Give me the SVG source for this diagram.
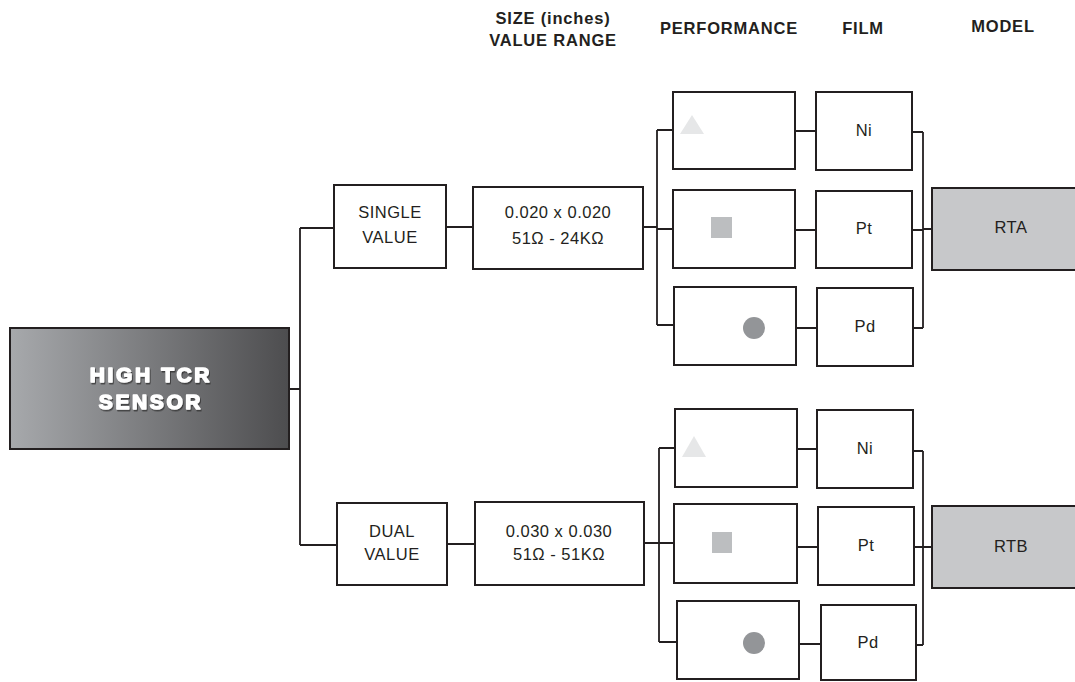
<svg xmlns="http://www.w3.org/2000/svg" width="1075" height="682" viewBox="0 0 1075 682">
<defs>
<linearGradient id="g" x1="0" y1="0" x2="1" y2="0">
<stop offset="0" stop-color="#a7a9ac"/>
<stop offset="1" stop-color="#4d4d4f"/>
</linearGradient>
<filter id="sh" x="-10%" y="-10%" width="120%" height="130%">
<feDropShadow dx="1" dy="1.5" stdDeviation="0.6" flood-color="#333" flood-opacity="0.8"/>
</filter>
</defs>
<style>
.b{fill:#fff;stroke:#231f20;stroke-width:2}
.m{fill:#c7c8ca;stroke:#231f20;stroke-width:2}
.t{font-family:"Liberation Sans",Arial,sans-serif;font-size:16.5px;letter-spacing:0.5px;fill:#231f20;text-anchor:middle}
.h{font-family:"Liberation Sans",Arial,sans-serif;font-size:16.5px;letter-spacing:0.8px;font-weight:bold;fill:#231f20;text-anchor:middle}
.c{fill:none;stroke:#231f20;stroke-width:1.8}
.w{font-family:"Liberation Sans",Arial,sans-serif;font-size:21px;font-weight:bold;fill:#fff;text-anchor:middle;letter-spacing:2.6px;stroke:#fff;stroke-width:1.5;stroke-linejoin:round}
</style>
<rect width="1075" height="682" fill="#fff"/>
<g id="headers">
<text class="h" x="553" y="24">SIZE (inches)</text>
<text class="h" x="553" y="46">VALUE RANGE</text>
<text class="h" x="729" y="34">PERFORMANCE</text>
<text class="h" x="863" y="34">FILM</text>
<text class="h" x="1003" y="32">MODEL</text>
</g>
<g id="connectors">
<path class="c" d="M289 389H300M300 228V545M300 228H334M300 545H337M446 227H473M643 227H657M657 130V325M657 130H673M657 229H673M657 325H674M795 131H816M795 230H816M796 328H817M912 132H923M912 230H923M913 328H923M923 132V328M923 229H932"/>
<path class="c" d="M447 544H475M644 543H659M659 448V642M659 448H675M659 543H674M659 642H677M797 449H817M797 547H818M799 644H821M913 451H923M914 547H923M916 645H923M923 451V645M923 547H932"/>
</g>
<g id="main">
<rect x="10" y="328" width="279" height="121" fill="url(#g)" stroke="#231f20" stroke-width="2"/>
<g filter="url(#sh)">
<text class="w" x="151" y="382">HIGH TCR</text>
<text class="w" x="151" y="409">SENSOR</text>
</g>
</g>
<g id="single">
<rect class="b" x="334" y="185" width="112" height="83"/>
<text class="t" x="390" y="218">SINGLE</text>
<text class="t" x="390" y="243">VALUE</text>
</g>
<g id="size1">
<rect class="b" x="473" y="187" width="170" height="82"/>
<text class="t" x="558" y="218">0.020 x 0.020</text>
<text class="t" x="558" y="244">51Ω - 24KΩ</text>
</g>
<g id="perf1a">
<rect class="b" x="673" y="92" width="122" height="77"/>
<polygon points="692,115 704,134 680,134" fill="#e6e7e8"/>
</g>
<g id="perf1b">
<rect class="b" x="673" y="190" width="122" height="78"/>
<rect x="711" y="217" width="21" height="21" fill="#bcbec0"/>
</g>
<g id="perf1c">
<rect class="b" x="674" y="287" width="122" height="78"/>
<circle cx="754" cy="328" r="11" fill="#939598"/>
</g>
<g id="film1a">
<rect class="b" x="816" y="92" width="96" height="78"/>
<text class="t" x="864" y="136">Ni</text>
</g>
<g id="film1b">
<rect class="b" x="816" y="191" width="96" height="77"/>
<text class="t" x="864" y="234">Pt</text>
</g>
<g id="film1c">
<rect class="b" x="817" y="288" width="96" height="78"/>
<text class="t" x="865" y="332">Pd</text>
</g>
<g id="rta">
<rect class="m" x="932" y="188" width="160" height="82"/>
<text class="t" x="1011" y="233">RTA</text>
</g>
<g id="dual">
<rect class="b" x="337" y="503" width="110" height="82"/>
<text class="t" x="392" y="537">DUAL</text>
<text class="t" x="392" y="560">VALUE</text>
</g>
<g id="size2">
<rect class="b" x="475" y="502" width="169" height="83"/>
<text class="t" x="559" y="537">0.030 x 0.030</text>
<text class="t" x="559" y="560">51Ω - 51KΩ</text>
</g>
<g id="perf2a">
<rect class="b" x="675" y="409" width="122" height="78"/>
<polygon points="694,436 706,457 682,457" fill="#e6e7e8"/>
</g>
<g id="perf2b">
<rect class="b" x="674" y="504" width="123" height="79"/>
<rect x="712" y="532" width="20" height="21" fill="#bcbec0"/>
</g>
<g id="perf2c">
<rect class="b" x="677" y="601" width="122" height="78"/>
<circle cx="754" cy="643" r="11" fill="#939598"/>
</g>
<g id="film2a">
<rect class="b" x="817" y="410" width="96" height="78"/>
<text class="t" x="865" y="454">Ni</text>
</g>
<g id="film2b">
<rect class="b" x="818" y="507" width="96" height="78"/>
<text class="t" x="866" y="551">Pt</text>
</g>
<g id="film2c">
<rect class="b" x="821" y="605" width="95" height="75"/>
<text class="t" x="868" y="648">Pd</text>
</g>
<g id="rtb">
<rect class="m" x="932" y="506" width="160" height="82"/>
<text class="t" x="1011" y="552">RTB</text>
</g>
</svg>
